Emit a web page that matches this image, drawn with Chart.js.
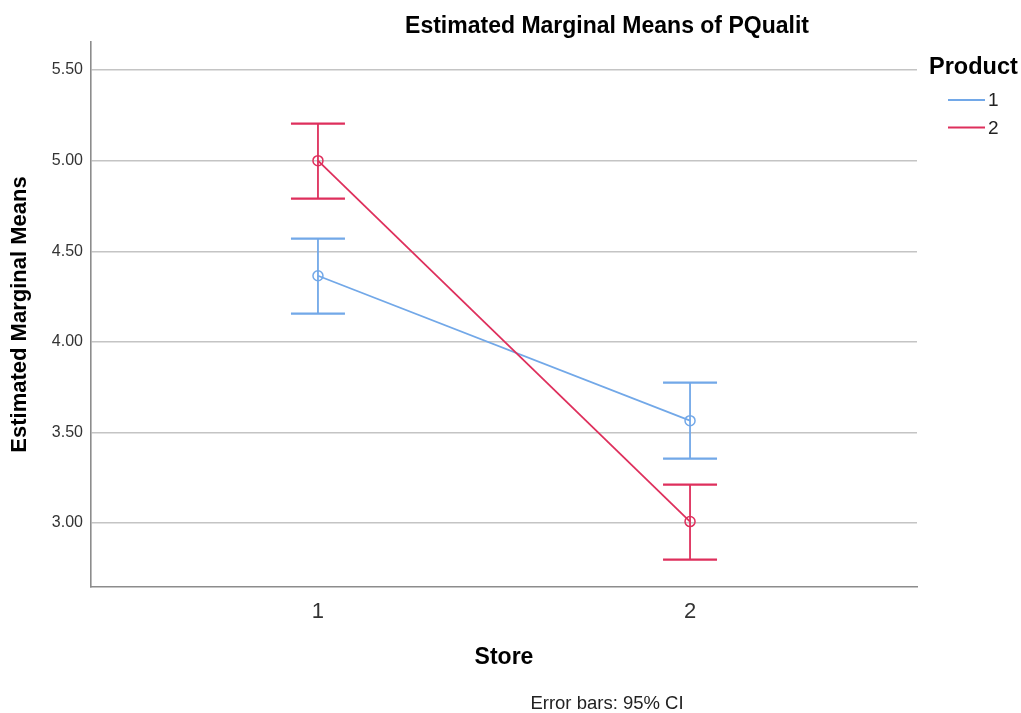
<!DOCTYPE html>
<html>
<head>
<meta charset="utf-8">
<title>Estimated Marginal Means of PQualit</title>
<script src="https://cdn.jsdelivr.net/npm/chart.js@4.4.1/dist/chart.umd.min.js"></script>
<style>
  html, body { margin: 0; padding: 0; background: #fff; }
  #wrap { width: 1021px; height: 713px; position: relative; }
</style>
</head>
<body>
<div id="wrap"><canvas id="emmChart"></canvas></div>
<script>
// 데이터
const stores = [1, 2];
const productLabels = ['1', '2'];
const product1Means = [4.365, 3.565];
const product1Lower = [4.156, 3.355];
const product1Upper = [4.570, 3.775];
const product2Means = [5.00, 3.008];
const product2Lower = [4.790, 2.798];
const product2Upper = [5.204, 3.212];
const yTicks = [3.00, 3.50, 4.00, 4.50, 5.00, 5.50];

const FONT = '"Liberation Sans", Arial, sans-serif';
const BLUE = '#72a8e8';
const RED = '#de2f5c';

const seriesColors = [BLUE, RED];
const lowerSets = [product1Lower, product2Lower];
const upperSets = [product1Upper, product2Upper];

// 오차 막대 + 제목 + 범례
const extrasPlugin = {
  id: 'extras',
  afterDatasetsDraw(chart) {
    const ctx = chart.ctx;
    const xs = chart.scales.x;
    const ys = chart.scales.y;
    ctx.save();
    [0, 1].forEach(d => {
      ctx.strokeStyle = seriesColors[d];
      stores.forEach((s, i) => {
        const px = xs.getPixelForValue(s);
        const top = ys.getPixelForValue(upperSets[d][i]);
        const bot = ys.getPixelForValue(lowerSets[d][i]);
        ctx.lineWidth = 1.8;
        ctx.beginPath();
        ctx.moveTo(px, top);
        ctx.lineTo(px, bot);
        ctx.stroke();
        ctx.lineWidth = 2.2;
        ctx.beginPath();
        ctx.moveTo(px - 27, top);
        ctx.lineTo(px + 27, top);
        ctx.moveTo(px - 27, bot);
        ctx.lineTo(px + 27, bot);
        ctx.stroke();
      });
    });
    ctx.restore();
  },
  afterDraw(chart) {
    const ctx = chart.ctx;
    ctx.save();
    ctx.fillStyle = '#000';
    ctx.textAlign = 'center';
    ctx.textBaseline = 'middle';
    ctx.font = 'bold 23px ' + FONT;
    ctx.fillText('Estimated Marginal Means of PQualit', 607, 27);
    ctx.font = '18.5px ' + FONT;
    ctx.fillStyle = '#222';
    ctx.fillText('Error bars: 95% CI', 607, 704);

    // 범례
    ctx.textAlign = 'left';
    ctx.fillStyle = '#000';
    ctx.font = 'bold 23.5px ' + FONT;
    ctx.fillText('Product', 929, 68);
    ctx.font = '19px ' + FONT;
    productLabels.forEach((lab, i) => {
      const y = 100 + i * 27.5;
      ctx.strokeStyle = seriesColors[i];
      ctx.lineWidth = 1.8;
      ctx.beginPath();
      ctx.moveTo(948, y);
      ctx.lineTo(985, y);
      ctx.stroke();
      ctx.fillStyle = '#222';
      ctx.fillText(lab, 988, y + 1);
    });
    ctx.restore();
  }
};

function toPoints(means) {
  return stores.map((s, i) => ({ x: s, y: means[i] }));
}

const ctx = document.getElementById('emmChart');
new Chart(ctx, {
  type: 'scatter',
  data: {
    datasets: [
      {
        label: productLabels[0],
        data: toPoints(product1Means),
        showLine: true,
        borderColor: BLUE,
        backgroundColor: 'rgba(0,0,0,0)',
        borderWidth: 1.8,
        pointRadius: 5,
        pointBorderWidth: 1.5,
        pointBorderColor: BLUE,
        pointBackgroundColor: 'rgba(0,0,0,0)',
        order: 2
      },
      {
        label: productLabels[1],
        data: toPoints(product2Means),
        showLine: true,
        borderColor: RED,
        backgroundColor: 'rgba(0,0,0,0)',
        borderWidth: 1.8,
        pointRadius: 5,
        pointBorderWidth: 1.5,
        pointBorderColor: RED,
        pointBackgroundColor: 'rgba(0,0,0,0)',
        order: 1
      }
    ]
  },
  options: {
    responsive: true,
    maintainAspectRatio: false,
    animation: false,
    layout: { padding: { top: 42, right: 104, left: 0, bottom: 0 } },
    plugins: {
      legend: { display: false },
      title: { display: false },
      tooltip: { enabled: false }
    },
    scales: {
      x: {
        type: 'linear',
        min: 0.39,
        max: 2.61,
        afterBuildTicks: scale => { scale.ticks = stores.map(v => ({ value: v })); },
        afterFit: scale => { scale.height = 126; },
        grid: { display: false },
        border: { display: true, color: '#8c8c8c', width: 1.6 },
        ticks: {
          padding: 4,
          color: '#333',
          font: { family: FONT, size: 22 },
          callback: v => String(v)
        },
        title: {
          display: true,
          text: 'Store',
          color: '#000',
          font: { family: FONT, size: 23, weight: 'bold' },
          padding: { top: 0, bottom: 42 }
        }
      },
      y: {
        min: 2.647,
        max: 5.655,
        afterBuildTicks: scale => { scale.ticks = yTicks.map(v => ({ value: v })); },
        afterFit: scale => { scale.width = 91; },
        grid: { color: '#c4c4c4', lineWidth: 1.5, drawTicks: false },
        border: { display: true, color: '#8c8c8c', width: 1.6 },
        ticks: {
          padding: 8,
          color: '#333',
          font: { family: FONT, size: 16 },
          callback: v => Number(v).toFixed(2)
        },
        title: {
          display: true,
          text: 'Estimated Marginal Means',
          color: '#000',
          font: { family: FONT, size: 22, weight: 'bold' },
          padding: { top: 7, bottom: 0 }
        }
      }
    }
  },
  plugins: [extrasPlugin]
});
</script>
</body>
</html>
